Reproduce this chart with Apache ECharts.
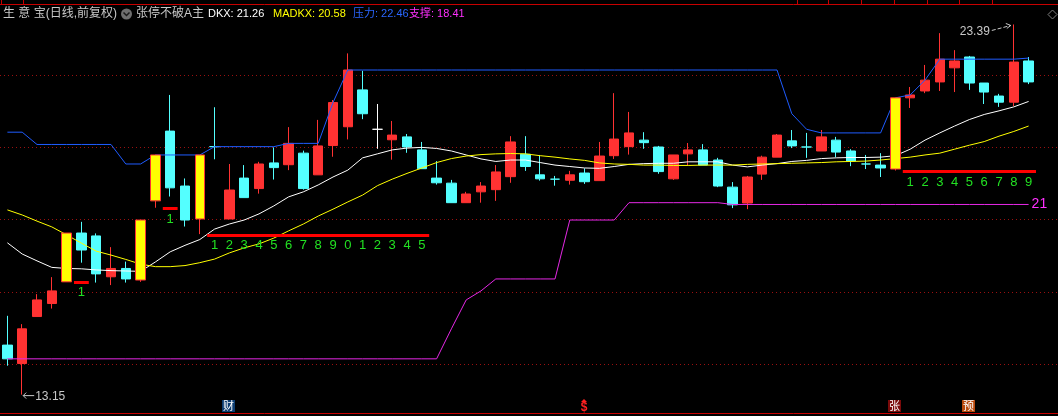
<!DOCTYPE html>
<html><head><meta charset="utf-8">
<script src="https://cdn.jsdelivr.net/npm/echarts@6/dist/echarts.min.js"></script>
<style>html,body{margin:0;padding:0;background:#000;overflow:hidden}#c{width:1058px;height:416px;}</style>
</head><body><div id="c"></div>
<script>
// ---------------- data ----------------
const categories = Array.from({length: 70}, (_, i) => 'D' + (i + 1));
const openP  = [14.52,14.01,15.31,15.67,16.27,17.62,17.54,16.41,16.64,16.32,
                18.51,20.44,18.92,18.01,20.01,18.01,19.14,18.85,19.56,19.51,
                19.83,19.23,20.04,20.56,21.58,20.49,20.20,20.28,19.92,19.14,
                19.00,18.46,18.76,18.82,19.18,19.80,19.23,19.11,19.08,19.28,
                19.07,19.76,20.01,20.19,20.00,19.12,19.81,19.92,19.64,18.89,
                18.45,19.25,19.72,20.17,20.00,19.89,20.19,19.89,19.53,19.50,
                19.39,21.36,21.55,21.80,22.19,22.49,21.77,21.41,21.24,22.38];
const closeP = [14.14,14.97,15.77,16.02,17.62,17.15,16.49,16.64,16.35,17.98,
                19.78,18.87,17.98,19.78,20.01,18.81,18.60,19.53,19.43,20.10,
                18.85,20.03,21.23,22.13,20.92,20.49,20.33,20.00,19.40,19.01,
                18.46,18.70,18.92,19.31,20.14,19.46,19.12,19.11,19.23,19.04,
                19.75,20.22,20.39,20.12,19.32,19.78,19.92,19.50,18.92,18.40,
                19.17,19.72,20.33,20.03,20.00,20.28,19.86,19.61,19.53,19.42,
                21.36,21.44,21.85,22.43,22.38,21.77,21.52,21.24,22.35,21.80];
const highP  = [15.33,15.10,15.93,16.40,17.62,17.93,17.61,17.23,16.83,17.98,
                19.78,21.44,19.13,19.78,21.10,19.53,19.50,19.59,19.99,20.55,
                19.90,20.75,21.30,22.59,22.11,21.19,20.72,20.36,20.14,19.61,
                19.09,18.76,19.03,19.50,20.30,20.30,19.78,19.20,19.34,19.41,
                20.14,21.49,20.97,20.41,20.03,19.78,20.11,20.08,19.70,19.03,
                19.20,19.76,20.36,20.47,20.39,20.47,20.28,19.94,19.78,19.83,
                21.36,21.66,22.27,23.15,22.68,22.52,21.77,21.47,23.39,22.49];
const lowP   = [13.95,13.15,15.31,15.53,16.27,16.80,16.25,16.18,16.25,16.27,
                18.32,18.63,17.80,17.59,19.66,18.01,18.60,18.71,19.10,19.36,
                18.82,19.23,19.73,20.21,20.77,19.95,19.65,19.84,19.40,18.96,
                18.46,18.46,18.46,18.51,19.01,19.34,19.07,18.93,18.96,18.98,
                19.07,19.67,19.79,19.95,19.26,19.09,19.50,19.50,18.89,18.31,
                18.28,19.09,19.72,19.97,19.70,19.89,19.72,19.47,19.39,19.17,
                19.35,21.08,21.49,21.55,21.52,21.58,21.19,21.11,21.13,21.74];
const dkx    = [17.35,17.04,16.85,16.67,16.64,16.63,16.60,16.58,16.57,16.56,
                16.82,17.10,17.28,17.44,17.73,17.87,17.98,18.15,18.37,18.62,
                18.76,18.95,19.17,19.36,19.70,19.81,19.92,19.97,19.99,19.96,
                19.89,19.78,19.67,19.60,19.64,19.64,19.57,19.50,19.46,19.42,
                19.41,19.46,19.52,19.54,19.55,19.55,19.59,19.59,19.59,19.50,
                19.45,19.50,19.54,19.60,19.63,19.68,19.70,19.71,19.71,19.72,
                19.76,19.94,20.19,20.39,20.58,20.76,20.90,21.00,21.11,21.26];
const madkx  = [18.26,18.12,17.95,17.79,17.57,17.34,17.12,17.01,16.89,16.76,
                16.69,16.69,16.72,16.80,16.90,17.07,17.21,17.32,17.48,17.68,
                17.87,18.09,18.28,18.48,18.67,18.93,19.11,19.27,19.42,19.57,
                19.68,19.75,19.79,19.81,19.82,19.81,19.76,19.72,19.67,19.63,
                19.56,19.53,19.52,19.50,19.50,19.49,19.49,19.50,19.50,19.50,
                19.52,19.53,19.54,19.55,19.56,19.57,19.59,19.60,19.61,19.64,
                19.68,19.72,19.78,19.83,19.94,20.05,20.15,20.30,20.43,20.58];
const pressure = [20.41,20.41,20.07,20.07,20.07,20.07,20.07,20.07,19.53,19.53,
                19.78,19.78,19.78,19.78,20.01,20.01,20.01,20.01,20.01,20.10,
                20.10,20.10,21.23,22.13,22.13,22.13,22.13,22.13,22.13,22.13,
                22.13,22.13,22.13,22.13,22.13,22.13,22.13,22.13,22.13,22.13,
                22.13,22.13,22.13,22.13,22.13,22.13,22.13,22.13,22.13,22.13,
                22.13,22.13,22.13,20.92,20.49,20.39,20.39,20.39,20.39,20.39,
                21.36,21.44,21.85,22.43,22.43,22.43,22.43,22.43,22.43,22.46];
const support = [14.14,14.14,14.14,14.14,14.14,14.14,14.14,14.14,14.14,14.14,
                14.14,14.14,14.14,14.14,14.14,14.14,14.14,14.14,14.14,14.14,
                14.14,14.14,14.14,14.14,14.14,14.14,14.14,14.14,14.14,14.14,
                14.97,15.77,16.02,16.35,16.35,16.35,16.35,16.35,17.98,17.98,
                17.98,17.98,18.46,18.46,18.46,18.46,18.46,18.46,18.46,18.41,
                18.41,18.41,18.41,18.41,18.41,18.41,18.41,18.41,18.41,18.41,
                18.41,18.41,18.41,18.41,18.41,18.41,18.41,18.41,18.41,18.41];
const limitUpIdx = [4, 9, 10, 13, 60];
const whiteDojiIdx = [25];
// [startIndex, endIndex, level] of "limit-up not broken" count runs
const countRuns = [[5, 5, 16.27], [11, 11, 18.30], [14, 28, 17.57], [61, 69, 19.33]];
const gridLevels = [14, 16, 18, 20, 22];
const markerIdx  = [15, 39, 60, 65];
const markerText = ['财', '$', '张', '预'];
const titleName = '生 意 宝(日线,前复权)';
const indicatorName = '张停不破A主';

// ---------------- build ----------------
const N = categories.length;
const Y_MIN = 12.614, Y_MAX = 23.956;
const RED = '#ff3232', CYAN = '#54ffff';
const FONT = '"Liberation Sans","Noto Sans CJK SC",sans-serif';

const candleNormal = [], candleLimit = [];
for (let i = 0; i < N; i++) {
  const v = [openP[i], closeP[i], lowP[i], highP[i]];
  if (limitUpIdx.includes(i)) { candleLimit.push(v); candleNormal.push('-'); }
  else {
    candleLimit.push('-');
    if (openP[i] === closeP[i]) {
      const c = whiteDojiIdx.includes(i) ? '#ffffff' : CYAN;
      candleNormal.push({value: v, itemStyle: {color: c, color0: c, borderColor: c, borderColor0: c}});
    } else candleNormal.push(v);
  }
}
const countLabels = [];
countRuns.forEach(r => { for (let i = r[0]; i <= r[1]; i++) countLabels.push([i, r[2], (i - r[0] + 1) % 10]); });

let iMax = 0, iMin = 0;
for (let i = 0; i < N; i++) { if (highP[i] > highP[iMax]) iMax = i; if (lowP[i] < lowP[iMin]) iMin = i; }
const extremes = [[iMax, highP[iMax]], [iMin, lowP[iMin]]];
let supportDays = 1;
for (let i = N - 2; i >= 0 && support[i] === support[N - 1]; i--) supportDays++;

const markerStyle = {'财': '#0c3c70', '张': '#7a0a0a', '预': '#b8480c'};

const chart = echarts.init(document.getElementById('c'));
function lineSeries(name, data, color, extra) {
  return Object.assign({name, type: 'line', data, symbol: 'none', z: 3, silent: true,
    lineStyle: {color, width: 1}, itemStyle: {color}}, extra || {});
}
chart.setOption({
  backgroundColor: '#000',
  animation: false,
  grid: {left: -1, width: 1037, top: 4, height: 410},
  xAxis: {type: 'category', data: categories, show: false, boundaryGap: true},
  yAxis: {type: 'value', min: Y_MIN, max: Y_MAX, show: false, splitLine: {show: false}},
  series: [
    {name: 'K', type: 'candlestick', data: candleNormal, barWidth: 10, z: 2,
     itemStyle: {color: RED, color0: CYAN, borderColor: RED, borderColor0: CYAN, borderWidth: 1}},
    lineSeries('DKX', dkx, '#ffffff'),
    lineSeries('MADKX', madkx, '#ffff00'),
    lineSeries('压力', pressure, '#1f5cff'),
    lineSeries('支撑', support, '#e628e6', {endLabel: {show: true, formatter: String(supportDays), color: '#ff30ff', fontSize: 14, distance: 3, fontFamily: FONT}}),
    {name: 'KL', type: 'candlestick', data: candleLimit, barWidth: 10, z: 4,
     itemStyle: {color: '#ffff00', color0: '#ffff00', borderColor: RED, borderColor0: RED, borderWidth: 1}},
    {name: 'runLine', type: 'custom', z: 5, silent: true, data: countRuns, encode: {x: [0, 1], y: 2},
     renderItem: (params, api) => {
       const lv = api.value(2);
       const p1 = api.coord([api.value(0), lv]), p2 = api.coord([api.value(1), lv]);
       const bw = api.size([1, 0])[0];
       return {type: 'rect', shape: {x: p1[0] - bw / 2, y: Math.round(p1[1]) - 1, width: p2[0] - p1[0] + bw, height: 3}, style: {fill: '#ff0000'}};
     }},
    {name: 'runCount', type: 'custom', z: 5, silent: true, data: countLabels, encode: {x: 0, y: 1},
     renderItem: (params, api) => {
       const p = api.coord([api.value(0), api.value(1)]);
       return {type: 'text', x: p[0], y: p[1] + 11, style: {text: String(countLabels[params.dataIndex][2]), fill: '#22e022',
         font: '13px ' + FONT, align: 'center', verticalAlign: 'middle', textAlign: 'center', textVerticalAlign: 'middle'}};
     }},
    {name: 'markers', type: 'custom', z: 5, silent: true, data: markerIdx.map(i => [i, Y_MIN]), encode: {x: 0, y: 1},
     renderItem: (params, api) => {
       const p = api.coord([api.value(0), api.value(1)]);
       const t = markerText[params.dataIndex];
       const cx = Math.round(p[0]) - 1, by = p[1] - 2;
       if (t === '$') {
         return {type: 'group', children: [
           {type: 'polygon', shape: {points: [[cx, by - 13], [cx - 3, by - 10], [cx + 3, by - 10]]}, style: {fill: '#ff2020'}},
           {type: 'text', x: cx, y: by - 4, style: {text: '$', fill: '#ff2020', font: 'bold 12px ' + FONT,
             align: 'center', verticalAlign: 'middle', textAlign: 'center', textVerticalAlign: 'middle'}}]};
       }
       return {type: 'group', children: [
         {type: 'rect', shape: {x: cx - 6, y: by - 12, width: 13, height: 12}, style: {fill: markerStyle[t]}},
         {type: 'text', x: cx + 0.5, y: by - 6, style: {text: t, fill: '#ffffff', font: '11px "Noto Sans CJK SC"',
           align: 'center', verticalAlign: 'middle', textAlign: 'center', textVerticalAlign: 'middle'}}]};
     }},
    {name: 'extremes', type: 'custom', z: 6, silent: true, data: extremes, encode: {x: 0, y: 1},
     renderItem: (params, api) => {
       const p = api.coord([api.value(0), api.value(1)]);
       const txt = api.value(1).toFixed(2);
       const col = '#c8c8c8';
       if (params.dataIndex === 0) {
         return {type: 'group', children: [
           {type: 'line', shape: {x1: p[0] - 22, y1: p[1] + 6, x2: p[0] - 3, y2: p[1] + 1}, style: {stroke: col, lineWidth: 1, lineDash: [4, 2]}},
           {type: 'polyline', shape: {points: [[p[0] - 8, p[1] - 1], [p[0] - 3, p[1] + 1], [p[0] - 7, p[1] + 4]]}, style: {stroke: col, lineWidth: 1, fill: null}},
           {type: 'text', x: p[0] - 24, y: p[1] + 7, style: {text: txt, fill: col, font: '12px ' + FONT,
             align: 'right', verticalAlign: 'middle', textAlign: 'right', textVerticalAlign: 'middle'}}]};
       }
       return {type: 'group', children: [
         {type: 'line', shape: {x1: p[0] + 1, y1: p[1] + 1, x2: p[0] + 12, y2: p[1] + 1}, style: {stroke: col, lineWidth: 1}},
         {type: 'polyline', shape: {points: [[p[0] + 4, p[1] - 2], [p[0] + 1, p[1] + 1], [p[0] + 4, p[1] + 4]]}, style: {stroke: col, lineWidth: 1, fill: null}},
         {type: 'text', x: p[0] + 13, y: p[1] + 2, style: {text: txt, fill: col, font: '12px ' + FONT,
           align: 'left', verticalAlign: 'middle', textAlign: 'left', textVerticalAlign: 'middle'}}]};
     }}
  ]
});

// decorations: grid lines via the y scale, frame, header
const graphics = [];
gridLevels.forEach(v => {
  const y = Math.round(chart.convertToPixel({yAxisIndex: 0}, v)) + 0.5;
  graphics.push({type: 'line', silent: true, z: 0, shape: {x1: 0, y1: y, x2: 1058, y2: y}, style: {stroke: '#9a1010', lineWidth: 1, lineDash: [1, 3]}});
});
const yTop = Math.round(chart.convertToPixel({yAxisIndex: 0}, Y_MAX)) + 0.5;
const yBot = Math.round(chart.convertToPixel({yAxisIndex: 0}, Y_MIN)) - 0.5;
graphics.push({type: 'line', silent: true, shape: {x1: 0, y1: yTop, x2: 1058, y2: yTop}, style: {stroke: '#c80000', lineWidth: 1}});
graphics.push({type: 'line', silent: true, shape: {x1: 0, y1: yBot, x2: 1058, y2: yBot}, style: {stroke: '#c80000', lineWidth: 1}});
[1, 23, 797, 828, 861, 894, 927, 959, 992].forEach(x => graphics.push({type: 'line', silent: true, shape: {x1: x + 0.5, y1: 0, x2: x + 0.5, y2: yTop}, style: {stroke: '#c80000', lineWidth: 1}}));
function hdr(x, text, color, size) {
  graphics.push({type: 'text', x, y: 14, silent: true, z: 10, style: {text, fill: color, font: (size || 11) + 'px ' + FONT, align: 'left', verticalAlign: 'middle', textAlign: 'left', textVerticalAlign: 'middle'}});
}
hdr(3, titleName, '#c8c8c8', 12);
graphics.push({type: 'circle', silent: true, shape: {cx: 126.5, cy: 14, r: 5.5}, style: {fill: '#6e6e6e'}});
graphics.push({type: 'polyline', silent: true, shape: {points: [[123.5, 12.5], [126.5, 15.5], [129.5, 12.5]]}, style: {stroke: '#1a1a1a', lineWidth: 1.5, fill: null}});
hdr(136, indicatorName, '#c8c8c8', 12);
hdr(208, 'DKX: ' + dkx[N - 1].toFixed(2), '#ffffff');
hdr(273, 'MADKX: ' + madkx[N - 1].toFixed(2), '#ffff00');
hdr(353, '压力: ' + pressure[N - 1].toFixed(2), '#2a66ff');
hdr(409, '支撑: ' + support[N - 1].toFixed(2), '#ff30ff');
graphics.push({type: 'polygon', silent: true, shape: {points: [[1052.5, 10], [1057, 14.5], [1052.5, 19], [1048, 14.5]]}, style: {stroke: '#808080', fill: null, lineWidth: 1}});
chart.setOption({graphic: graphics});
</script>
</body></html>
